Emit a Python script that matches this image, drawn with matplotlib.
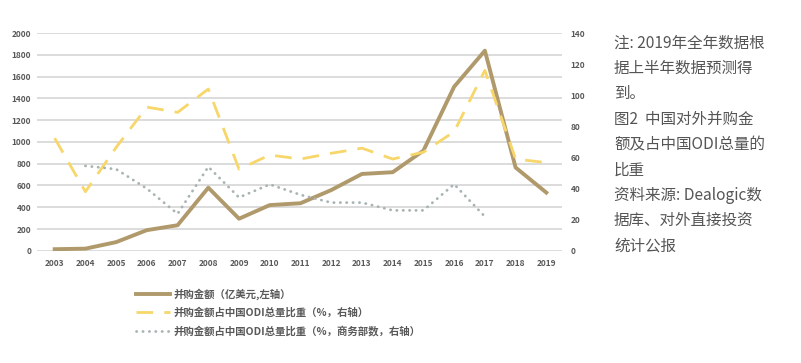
import matplotlib.pyplot as plt
import numpy as np

plt.rcParams['font.family'] = ['Noto Sans CJK SC', 'DejaVu Sans']
plt.rcParams['axes.unicode_minus'] = False

years = ['2003', '2004', '2005', '2006', '2007', '2008', '2009', '2010', '2011',
         '2012', '2013', '2014', '2015', '2016', '2017', '2018', '2019']
# 并购金额（亿美元，左轴）
amount = [15, 20, 80, 190, 235, 580, 295, 420, 437, 558, 706, 722, 920, 1507, 1838, 765, 535]
# 占ODI比重（%，右轴）
share = [72.4, 38, 66.5, 92.4, 89, 104, 52.5, 61.6, 59, 62.7, 66, 59, 63.4, 76.6, 116, 59, 56.7]
# 占ODI比重（%，商务部数，右轴），2003 无数据
share_mofcom = [np.nan, 54.6, 52.5, 40, 23.8, 54, 34.3, 42.7, 36, 31, 31, 26, 26, 42.8, 22, np.nan, np.nan]

x = np.arange(len(years))

fig = plt.figure(figsize=(8.01, 3.63), dpi=100)
ax = fig.add_axes([0.046, 0.309, 0.656, 0.6])
ax2 = ax.twinx()

for y in range(0, 2001, 200):
    ax.axhline(y, color='#d9d9d9', linewidth=1.3, zorder=0)

l1, = ax.plot(x, amount, color='#b09a6c', linewidth=2.8, zorder=3,
              label='并购金额（亿美元,左轴）')
l2, = ax2.plot(x, share, color='#f7d66a', linewidth=2.0, dashes=(6, 4),
               label='并购金额占中国ODI总量比重（%，右轴）')
l3, = ax2.plot(x, share_mofcom, color='#a9b3b3', linewidth=2.0,
               linestyle=(0, (0.1, 2.2)), dash_capstyle='round',
               label='并购金额占中国ODI总量比重（%，商务部数，右轴）')

ax.set_xlim(-0.58, 16.52)
ax.set_ylim(0, 2000)
ax2.set_ylim(0, 140)
ax.set_yticks(range(0, 2001, 200))
ax2.set_yticks(range(0, 141, 20))
ax.set_xticks(x)
ax.set_xticklabels(years)

for a in (ax, ax2):
    for s in a.spines.values():
        s.set_visible(False)
    a.tick_params(length=0, labelsize=6, colors='#595959')
ax.tick_params(axis='x', pad=6)
ax.tick_params(axis='y', pad=4)
ax2.tick_params(axis='y', pad=6)
for lab in ax.get_xticklabels() + ax.get_yticklabels() + ax2.get_yticklabels():
    lab.set_fontweight('bold')

leg = fig.legend(handles=[l1, l2, l3], loc='upper left', bbox_to_anchor=(0.165, 0.218),
                 frameon=False, fontsize=7.5, handlelength=3.2, handletextpad=0.4,
                 labelspacing=0.75, borderaxespad=0)
for t in leg.get_texts():
    t.set_color('#595959')
    t.set_fontweight('bold')

notes = ['注: 2019年全年数据根', '据上半年数据预测得', '到。', '图2  中国对外并购金',
         '额及占中国ODI总量的', '比重', '资料来源: Dealogic数', '据库、对外直接投资', '统计公报']
for i, s in enumerate(notes):
    fig.text(614 / 801, 1 - (43 + i * 25.4) / 363, s, fontsize=11.2, color='#555555',
             ha='left', va='center')

fig.savefig('out.png', dpi=100)
